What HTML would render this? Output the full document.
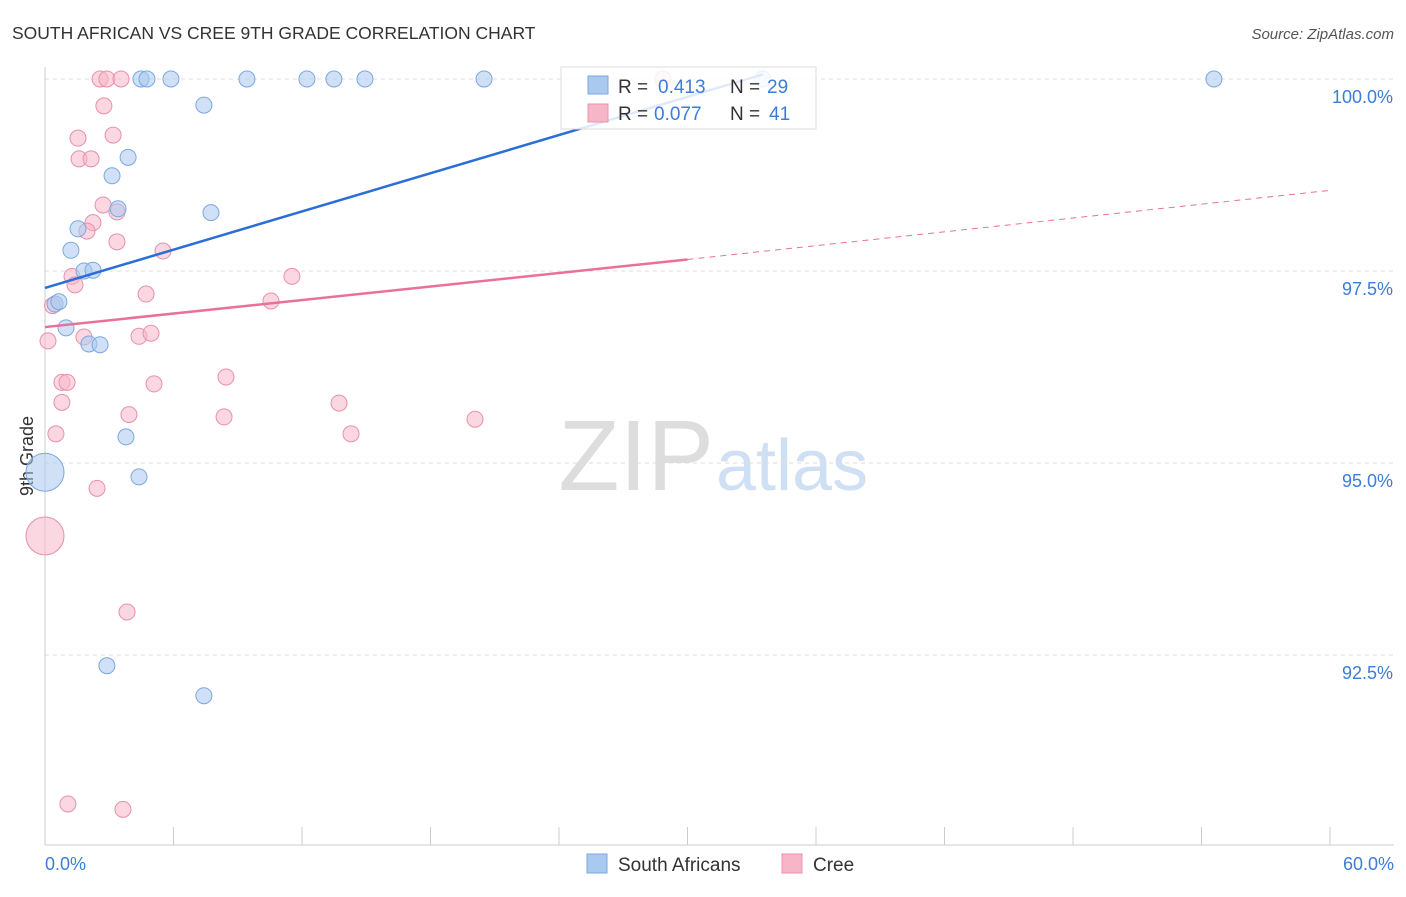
<!DOCTYPE html>
<html><head><meta charset="utf-8"><style>
body{margin:0;background:#fff;font-family:"Liberation Sans",sans-serif}
svg text{font-family:"Liberation Sans",sans-serif}
</style></head><body>
<svg id="c" width="1406" height="892">
<text x="12" y="39" font-size="17.5" fill="#333">SOUTH AFRICAN VS CREE 9TH GRADE CORRELATION CHART</text>
<text x="1394" y="39" font-size="15" fill="#555" text-anchor="end" font-style="italic">Source: ZipAtlas.com</text>
<text x="714" y="490" font-size="100" fill="#ddd" text-anchor="end" font-family="Liberation Serif">ZIP</text>
<text x="716" y="490" font-size="72" fill="#cfe0f5">atlas</text>
<text x="33" y="456" font-size="18" fill="#333" text-anchor="middle" transform="rotate(-90 33 456)">9th Grade</text>
<g id="grid"></g><g id="marks"></g><g id="lines"></g>
<g>
<rect x="561" y="67" width="255" height="62" fill="#fff" fill-opacity="0.85" stroke="#ddd"/>
<rect x="588" y="76" width="20" height="18" fill="#a9c9f0" stroke="#7aa8e0"/>
<rect x="588" y="104" width="20" height="18" fill="#f7b6c8" stroke="#e890aa"/>
<text x="618" y="93" font-size="19" fill="#333">R =</text>
<text x="658" y="93" font-size="19" fill="#3b7dd8">0.413</text>
<text x="730" y="93" font-size="19" fill="#333">N =</text>
<text x="767" y="93" font-size="19" fill="#3b7dd8">29</text>
<text x="618" y="120" font-size="19" fill="#333">R =</text>
<text x="654" y="120" font-size="19" fill="#3b7dd8">0.077</text>
<text x="730" y="120" font-size="19" fill="#333">N =</text>
<text x="769" y="120" font-size="19" fill="#3b7dd8">41</text>
</g>
<g>
<rect x="587" y="854" width="20" height="19" fill="#a9c9f0" stroke="#7aa8e0"/>
<text x="618" y="871" font-size="19" fill="#333">South Africans</text>
<rect x="782" y="854" width="20" height="19" fill="#f7b6c8" stroke="#e890aa"/>
<text x="813" y="871" font-size="19" fill="#333">Cree</text>
</g>
<text x="45" y="870" font-size="18" fill="#3b7dd8">0.0%</text>
<text x="1394" y="870" font-size="18" fill="#3b7dd8" text-anchor="end">60.0%</text>
</svg>
<script>
const yTicks=[100,97.5,95,92.5];
const yTickLabels=["100.0%","97.5%","95.0%","92.5%"];
const blueX=[4.48,4.76,5.88,9.43,12.23,13.49,14.94,20.50,54.58,33.52,7.42,3.88,3.13,3.41,7.75,1.54,1.21,1.82,2.24,0.47,0.65,0.98,2.05,2.57,3.78,4.39,0,2.89,7.42];
const blueY=[100,100,100,100,100,100,100,100,100,100,99.66,98.98,98.74,98.31,98.26,98.05,97.77,97.5,97.51,97.07,97.10,96.76,96.55,96.54,95.34,94.82,94.88,92.36,91.97];
const pinkX=[2.57,2.89,3.55,28.85,2.75,1.54,3.18,1.59,2.15,2.71,3.36,2.24,1.96,3.36,5.51,1.26,11.53,1.40,4.72,10.55,1.82,4.39,4.95,0.14,0.79,1.03,5.09,8.45,0.79,3.92,8.36,13.73,20.08,0.51,14.29,2.43,0,3.83,1.07,3.64,0.35];
const pinkY=[100,100,100,100,99.65,99.23,99.27,98.96,98.96,98.36,98.27,98.13,98.02,97.88,97.76,97.43,97.43,97.32,97.2,97.11,96.64,96.65,96.69,96.59,96.05,96.05,96.03,96.12,95.79,95.63,95.6,95.78,95.57,95.38,95.38,94.67,94.05,93.06,90.56,90.49,97.05];
const bigBlue=26, bigPink=36;
const blueTrend=[[0,97.28],[33.52,100.06]];
const pinkTrend=[[0,96.77],[30,97.65],[60,98.55]];
const NS="http://www.w3.org/2000/svg";
const xs=v=>45+v/60*1285, ys=v=>79+(100-v)*76.8;
function mk(t,a,p){const e=document.createElementNS(NS,t);for(const k in a)e.setAttribute(k,a[k]);p.appendChild(e);return e;}
const grid=document.getElementById('grid'),marks=document.getElementById('marks'),lines=document.getElementById('lines');
yTicks.forEach((t,i)=>{
 const l=mk('line',{x1:45,x2:1394,y1:ys(t),y2:ys(t),stroke:'#ddd','stroke-dasharray':'4,4'},grid);
 
 
 const tx=mk('text',{x:1393,y:ys(t)+24,'font-size':18,fill:'#3b7dd8','text-anchor':'end'},grid);
 tx.textContent=yTickLabels[i];
 
 
});
mk('line',{x1:45,x2:45,y1:67,y2:845,stroke:'#ccc'},grid);
mk('line',{x1:45,x2:1394,y1:845,y2:845,stroke:'#ccc'},grid);
for(let i=0;i<=10;i++){const t=mk('line',{x1:xs(i*6),x2:xs(i*6),y1:827,y2:845,stroke:'#ccc'},grid);
 
 }
function pts(X,Y,big,fill,stroke,name){X.forEach((x,i)=>{
 const c=mk('circle',{cx:xs(x),cy:ys(Y[i]),r:i===big?19:8,fill:fill,'fill-opacity':0.55,stroke:stroke,'stroke-width':1},marks);
 
 });}
pts(pinkX,pinkY,bigPink,'#f7b6c8','#e890aa','cree-point');
pts(blueX,blueY,bigBlue,'#a9c9f0','#7aa8e0','south-african-point');
const bl=mk('line',{x1:xs(blueTrend[0][0]),y1:ys(blueTrend[0][1]),x2:xs(blueTrend[1][0]),y2:ys(blueTrend[1][1]),stroke:'#2a6fd6','stroke-width':2.5},lines);


const pl=mk('line',{x1:xs(pinkTrend[0][0]),y1:ys(pinkTrend[0][1]),x2:xs(pinkTrend[1][0]),y2:ys(pinkTrend[1][1]),stroke:'#e8709a','stroke-width':2.5},lines);


const pd=mk('line',{x1:xs(pinkTrend[1][0]),y1:ys(pinkTrend[1][1]),x2:xs(pinkTrend[2][0]),y2:ys(pinkTrend[2][1]),stroke:'#e8709a','stroke-width':1,'stroke-dasharray':'6,5'},lines);


</script>
</body></html>
